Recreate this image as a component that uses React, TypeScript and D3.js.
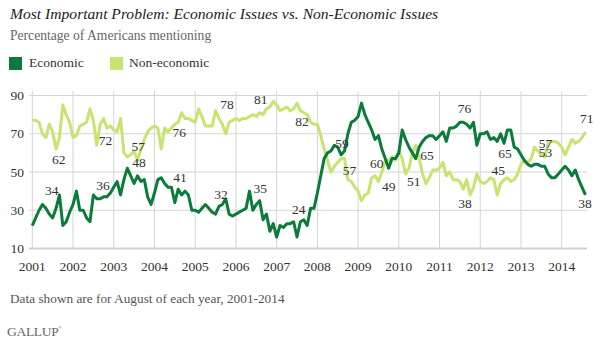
import React from "react";
import * as d3 from "d3";

const yearTicks = [2001, 2002, 2003, 2004, 2005, 2006, 2007, 2008, 2009, 2010, 2011, 2012, 2013, 2014];
const valueTicks = [10, 30, 50, 70, 90];

// Monthly values, Jan 2001 – Aug 2014
const economic = [
  22, 26, 30, 33, 31, 28, 26, 31, 38, 22, 24, 29,
  33, 40, 30, 30, 26, 24, 38, 36, 36, 37, 37, 39,
  42, 45, 38, 46, 52, 48, 44, 48, 45, 46, 37, 33,
  39, 46, 47, 44, 42, 42, 34, 41, 38, 40, 38, 30,
  30, 29, 31, 33, 31, 29, 28, 32, 33, 36, 28, 27,
  28, 29, 30, 31, 40, 30, 33, 35, 25, 28, 19, 23,
  16, 22, 21, 23, 23, 24, 16, 24, 25, 22, 31, 31,
  39, 48, 57, 60, 61, 64, 63, 59, 61, 70, 76, 77,
  79, 86, 80, 76, 72, 67, 69, 62, 57, 52, 57, 57,
  60, 72, 67, 63, 60, 57, 63, 66, 68, 69, 69, 67,
  69, 71, 66, 73, 73, 74, 76, 76, 75, 73, 76, 64,
  70, 70, 71, 67, 68, 66, 70, 65, 72, 72, 63, 62,
  59, 56, 54, 53, 54, 54, 53, 53, 49, 47, 47, 49,
  51, 53, 51, 48, 51, 46, 42, 38,
];
const nonEconomic = [
  77, 77, 76, 70, 68, 75, 71, 62, 68, 85, 80, 76,
  68, 69, 74, 75, 76, 83, 77, 64, 75, 78, 73, 74,
  72, 71, 78, 60, 58, 59, 61, 56, 62, 67, 71, 73,
  74, 73, 62, 73, 71, 73, 75, 76, 81, 78, 78, 77,
  76, 83, 79, 74, 74, 74, 82, 78, 75, 70, 76, 77,
  78, 77, 78, 78, 79, 80, 79, 81, 80, 83, 84, 87,
  85, 82, 83, 84, 82, 83, 86, 82, 81, 80, 76, 75,
  75, 69, 62, 56, 50, 53, 55, 57, 57, 46, 45, 42,
  40, 35, 38, 39, 47, 48, 45, 50, 56, 56, 58, 56,
  61, 57, 49, 52, 60, 64, 57, 49, 44, 47, 51, 51,
  52, 55, 48, 50, 46, 46, 45, 41, 46, 38, 42, 49,
  45, 44, 45, 47, 46, 38, 44, 46, 47, 45, 46, 49,
  54, 56, 55, 57, 63, 61, 59, 58, 65, 66, 66, 65,
  63, 59, 63, 67, 65, 66, 68, 71,
];

const labelTexts = ["34", "62", "36", "72", "57", "48", "41", "76", "32", "78", "81", "35", "24", "82", "59", "57", "60", "49", "51", "65", "76", "38", "45", "65", "57", "53", "71", "38"];
const labelYears = [2001.476, 2001.651, 2002.736, 2002.798, 2003.603, 2003.62, 2004.627, 2004.61, 2005.634, 2005.781, 2006.611, 2006.599, 2007.545, 2007.623, 2008.606, 2008.79, 2009.458, 2009.752, 2010.369, 2010.693, 2011.614, 2011.626, 2012.444, 2012.609, 2013.603, 2013.603, 2014.615, 2014.573];
const labelValues = [38, 54.2, 40.7, 64.2, 61, 52.5, 45, 68.2, 35.8, 82.8, 85.6, 38.9, 28.1, 74.1, 62.7, 48.5, 52.3, 40.3, 42.6, 56.5, 80.7, 31.3, 48.5, 57.4, 62.6, 57.9, 75.6, 31.3];

const DARK = "#0b7b3a";
const LIGHT = "#c6e46f";
const SERIF = "Liberation Serif, DejaVu Serif, serif";

export default function App() {
  const W = 594;
  const H = 344;
  const x = d3.scaleLinear().domain([2001, 2014]).range([32.3, 561.7]);
  const y = d3.scaleLinear().domain([10, 90]).range([248.5, 95.5]);
  const line = d3
    .line<number>()
    .x((_, i) => x(2001 + i / 12))
    .y((d) => y(d))
    .curve(d3.curveLinear);

  const gridLeft = 29;
  const gridRight = 587;
  const ts = { fontFamily: SERIF };

  return (
    <svg
      width={W}
      height={H}
      style={{ position: "absolute", left: 0, top: 0, background: "#fff", fontFamily: SERIF }}
    >
      <text x={10} y={18.5} fontSize={15.6} fontStyle="italic" fill="#222" style={ts}>
        Most Important Problem: Economic Issues vs. Non-Economic Issues
      </text>
      <text x={10} y={40} fontSize={13.6} fill="#666" style={ts}>
        Percentage of Americans mentioning
      </text>
      <rect x={9} y={57} width={13} height={13} fill={DARK} />
      <text x={29} y={67} fontSize={13.5} fill="#333" style={ts}>Economic</text>
      <rect x={110} y={57} width={13} height={13} fill={LIGHT} />
      <text x={129} y={67} fontSize={13.5} fill="#333" style={ts}>Non-economic</text>

      {valueTicks.filter((v) => v !== 10).map((v) => (
        <line key={"h" + v} x1={gridLeft} x2={gridRight} y1={y(v)} y2={y(v)} stroke="#d4d4d4" strokeWidth={1} />
      ))}
      {yearTicks.map((yr) => (
        <line key={"v" + yr} x1={x(yr)} x2={x(yr)} y1={91} y2={y(10)} stroke="#d4d4d4" strokeWidth={1} />
      ))}
      <line x1={gridLeft} x2={gridRight} y1={y(10)} y2={y(10)} stroke="#d0d0d0" strokeWidth={2} />

      {valueTicks.map((v) => (
        <text key={"yl" + v} x={24} y={y(v)} dy="0.35em" textAnchor="end" fontSize={13.5} fill="#333" style={ts}>
          {v}
        </text>
      ))}
      {yearTicks.map((yr) => (
        <text key={"xl" + yr} x={x(yr)} y={271} textAnchor="middle" fontSize={13.5} fill="#333" style={ts}>
          {yr}
        </text>
      ))}

      <path d={line(nonEconomic) || ""} fill="none" stroke={LIGHT} strokeWidth={3} strokeLinejoin="round" />
      <path d={line(economic) || ""} fill="none" stroke={DARK} strokeWidth={3} strokeLinejoin="round" />

      {labelTexts.map((t, i) => (
        <text key={"lab" + i} x={x(labelYears[i])} y={y(labelValues[i])} textAnchor="middle" fontSize={13.5} fill="#333" style={ts}>
          {t}
        </text>
      ))}

      <text x={10} y={302.5} fontSize={13.3} fill="#555" style={ts}>
        Data shown are for August of each year, 2001-2014
      </text>
      <text x={7} y={336} fontSize={13.5} fill="#666" letterSpacing={-0.3} style={ts}>
        GALLUP
        <tspan fontSize={4} dy={-7}>®</tspan>
      </text>
    </svg>
  );
}
